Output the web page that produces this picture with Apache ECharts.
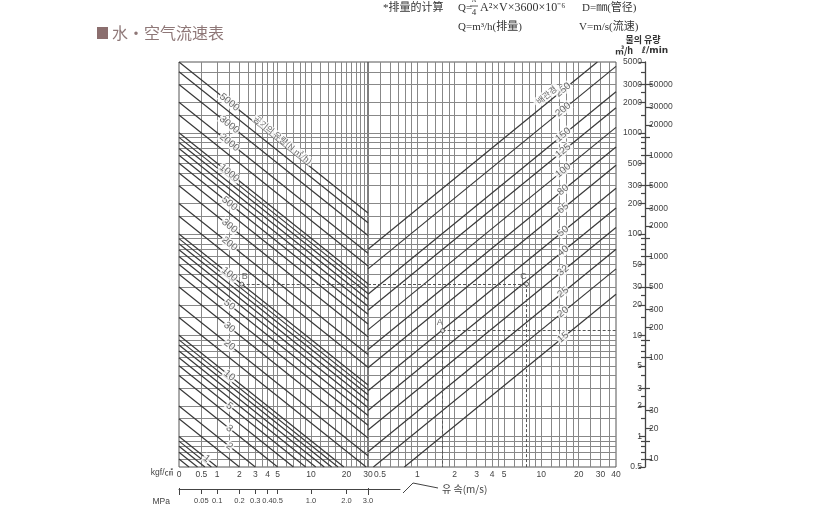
<!DOCTYPE html>
<html><head><meta charset="utf-8">
<script src="https://cdn.jsdelivr.net/npm/echarts@6/dist/echarts.min.js"></script>
<style>html,body{margin:0;padding:0;background:#fff}#c{width:818px;height:520px}</style>
</head><body><div id="c"></div>
<script>
// ---------------- DATA ----------------
const pressureTickLabels = [0, 0.5, 1, 2, 3, 4, 5, 10, 20, 30];            // kgf/cm2
const pressureGrid = [0.5, 1, 1.5, 2, 2.5, 3, 3.5, 4, 4.5, 5, 6, 7, 8, 9, 10, 12, 14, 16, 18, 20, 22, 24, 26, 28];
const mpaTicks = [0, 0.05, 0.1, 0.2, 0.3, 0.4, 0.5, 1.0, 2.0, 3.0];
const mpaTickLabels = ['0.05', '0.1', '0.2', '0.3', '0.4', '0.5', '1.0', '2.0', '3.0'];
const velocityTickLabels = [0.5, 1, 2, 3, 4, 5, 10, 20, 30, 40];          // m/s
const velocityGrid = [0.5, 0.6, 0.7, 0.8, 0.9, 1, 1.2, 1.4, 1.6, 1.8, 2, 2.5, 3, 3.5, 4, 4.5, 5, 6, 7, 8, 9, 10, 12, 14, 16, 18, 20, 25, 30, 35];
const flowGrid = [0.6, 0.7, 0.8, 0.9, 1, 1.5, 2, 3, 4, 5, 6, 7, 8, 9, 10, 15, 20, 30, 40, 50, 60, 70, 80, 90,
  100, 150, 200, 300, 400, 500, 600, 700, 800, 900, 1000, 1500, 2000, 3000, 4000];   // m3/h
const airFlowLines = [0.6, 0.7, 0.8, 0.9, 1, 1.5, 2, 3, 4, 5, 6, 7, 8, 9, 10, 15, 20, 30, 40, 50, 60, 70, 80, 90,
  100, 150, 200, 300, 400, 500, 600, 700, 800, 900, 1000, 1500, 2000, 3000, 4000, 5000]; // Nm3/h
const airFlowLabels = [5000, 3000, 2000, 1000, 500, 300, 200, 100, 50, 30, 20, 10, 5, 3, 2, 1];
const pipeDiameters = [15, 20, 25, 32, 40, 50, 65, 80, 100, 125, 150, 200, 250]; // mm
const flowAxisLabels = [5000, 3000, 2000, 1000, 500, 300, 200, 100, 50, 30, 20, 10, 5, 3, 2, 1, 0.5];
const flowAxisMinor = [4000, 2500, 1500, 900, 800, 700, 600, 400, 250, 150, 90, 80, 70, 60, 40, 25, 15, 9, 8, 7, 6, 4, 2.5, 1.5, 0.9, 0.8, 0.7, 0.6];
const lminAxisLabels = [50000, 30000, 20000, 10000, 5000, 3000, 2000, 1000, 500, 300, 200, 100, 30, 20, 10];
const lminAxisMinor = [15000, 1500, 150, 50, 15];
const exampleB = { airFlow: 100, flow: 32 };        // Nm3/h, m3/h
const exampleC = { velocity: 7.6, flow: 32 };       // m/s, m3/h
const exampleA = { velocity: 1.6, flow: 11.1 };     // m/s, m3/h

// ---------------- SCALES ----------------
const LOG = Math.log10;
const yMin = LOG(0.5), yMax = LOG(5000);
const lx = p => LOG(p + 1);
const lxMax = lx(30);
const rxMin = LOG(0.4), rxMax = LOG(40);
const K = Math.PI / 4 * 3600e-6;        // Q = pi/4 D^2 V 3600 10^-6
const M3H_TO_LMIN = 1000 / 60;

const NUM = '"Liberation Sans Narrow","Liberation Sans",Arial,sans-serif';
const SERIF = '"Liberation Serif","Noto Sans CJK SC",serif';
const CJK = '"Noto Sans CJK SC",sans-serif';
const KR = '"Noto Sans CJK KR","Liberation Sans",sans-serif';
const GRID_C = '#888', LINE_C = '#383838', TXT = '#444';

const fmt = v => String(Number(Math.pow(10, v).toPrecision(3)));

function hLines(vals, x0, x1) { return vals.map(q => ({ coords: [[x0, LOG(q)], [x1, LOG(q)]] })); }
function vLines(xs) { return xs.map(x => ({ coords: [[x, yMin], [x, yMax]] })); }

const leftDiag = airFlowLines.map(qf => {
  const c = LOG(qf), x0 = Math.max(0, c - yMax), x1 = Math.min(lxMax, c - yMin);
  return x1 > x0 ? { coords: [[x0, c - x0], [x1, c - x1]] } : null;
}).filter(Boolean);
const rightDiag = pipeDiameters.map(d => {
  const k = LOG(K * d * d), x0 = Math.max(rxMin, yMin - k), x1 = Math.min(rxMax, yMax - k);
  return { coords: [[x0, x0 + k], [x1, x1 + k]] };
});
const leftLabels = airFlowLabels.map(q => { const x = lx(q < 1.5 ? 0.65 : 1.5); return [x, LOG(q) - x, String(q)]; });
const rightLabels = pipeDiameters.map(d => { const x = LOG(15); return [x, x + LOG(K * d * d), String(d)]; });

const pB = exampleB.airFlow / exampleB.flow - 1;
const dashLeft = [{ coords: [[lx(pB), LOG(exampleB.flow)], [lxMax, LOG(exampleB.flow)]] }];
const dashRight = [
  { coords: [[rxMin, LOG(exampleC.flow)], [LOG(exampleC.velocity), LOG(exampleC.flow)]] },
  { coords: [[LOG(exampleC.velocity), LOG(exampleC.flow)], [LOG(exampleC.velocity), yMin]] },
  { coords: [[LOG(exampleA.velocity), LOG(exampleA.flow)], [rxMax, LOG(exampleA.flow)]] },
  { coords: [[LOG(exampleA.velocity), LOG(exampleA.flow)], [LOG(exampleA.velocity), yMin]] }
];

const angL = -Math.atan((405 / 4) / (189 / lxMax)) * 180 / Math.PI;
const angR = Math.atan((405 / 4) / (248 / (rxMax - rxMin))) * 180 / Math.PI;

const base = { silent: true, animation: false };
const lineLab = (rot) => ({ show: true, position: 'inside', formatter: p => p.data[2], rotate: rot,
  backgroundColor: '#fff', padding: [0, 1], fontSize: 10, color: '#444', fontFamily: NUM });

const option = {
  animation: false,
  backgroundColor: '#fff',
  grid: [
    { left: 179, top: 62, width: 189, height: 405, show: true, borderColor: '#555', borderWidth: 1 },
    { left: 368, top: 62, width: 248, height: 405, show: true, borderColor: '#555', borderWidth: 1 },
    { left: 645, top: 62, width: 1, height: 405 },
    { left: 179, top: 488, width: 221, height: 1 }
  ],
  xAxis: [
    { gridIndex: 0, type: 'value', min: 0, max: lxMax, axisLine: { show: false }, axisTick: { show: false }, splitLine: { show: false },
      axisLabel: { customValues: pressureTickLabels.map(lx), formatter: v => String(Number((Math.pow(10, v) - 1).toPrecision(3))),
        margin: 3, fontSize: 8.5, color: TXT, fontFamily: NUM } },
    { gridIndex: 1, type: 'value', min: rxMin, max: rxMax, axisLine: { show: false }, axisTick: { show: false }, splitLine: { show: false },
      axisLabel: { customValues: velocityTickLabels.map(LOG), formatter: fmt, margin: 3, fontSize: 8.5, color: TXT, fontFamily: NUM } },
    { gridIndex: 2, type: 'value', show: false, min: 0, max: 1 },
    { gridIndex: 3, type: 'value', min: 0, max: 221 * lxMax / 189, splitLine: { show: false },
      axisLine: { show: true, lineStyle: { color: '#444', width: 1 } },
      axisTick: { show: true, length: 5, customValues: mpaTicks.map(m => lx(m * 10)), lineStyle: { color: '#444' } },
      axisLabel: { customValues: mpaTickLabels.map(s => lx(parseFloat(s) * 10)),
        formatter: v => { let best = mpaTickLabels[0], bd = 1e9; mpaTickLabels.forEach(s => { const d = Math.abs(lx(parseFloat(s) * 10) - v); if (d < bd) { bd = d; best = s; } }); return best; },
        margin: 8, fontSize: 7.5, color: TXT, fontFamily: NUM } },
    { gridIndex: 3, type: 'value', min: 0, max: 221 * lxMax / 189, splitLine: { show: false }, axisLine: { show: false },
      axisTick: { show: true, inside: true, length: 7, customValues: [lx(mpaTicks[0]), lx(mpaTicks[mpaTicks.length - 1] * 10)], lineStyle: { color: '#444' } },
      axisLabel: { show: false } }
  ],
  yAxis: [
    { gridIndex: 0, type: 'value', min: yMin, max: yMax, show: false },
    { gridIndex: 1, type: 'value', min: yMin, max: yMax, show: false },
    { gridIndex: 2, type: 'value', position: 'left', min: yMin, max: yMax, splitLine: { show: false },
      axisLine: { show: true, lineStyle: { color: '#444', width: 1.3 } },
      axisTick: { show: true, length: 6, customValues: flowAxisLabels.map(LOG), lineStyle: { color: '#444', width: 1.2 } },
      axisLabel: { customValues: flowAxisLabels.map(LOG), formatter: fmt, margin: 3, fontSize: 8.5, color: TXT, fontFamily: NUM } },
    { gridIndex: 2, type: 'value', position: 'left', min: yMin, max: yMax, splitLine: { show: false }, axisLine: { show: false },
      axisTick: { show: true, length: 4, customValues: flowAxisMinor.map(LOG), lineStyle: { color: '#444', width: 1.2 } },
      axisLabel: { show: false } },
    { gridIndex: 2, type: 'value', position: 'right', min: LOG(0.5 * M3H_TO_LMIN), max: LOG(5000 * M3H_TO_LMIN), splitLine: { show: false },
      axisLine: { show: false },
      axisTick: { show: true, length: 6, customValues: lminAxisLabels.map(LOG), lineStyle: { color: '#444', width: 1.2 } },
      axisLabel: { customValues: lminAxisLabels.map(LOG), formatter: fmt, margin: 3, fontSize: 8.5, color: TXT, fontFamily: NUM } },
    { gridIndex: 2, type: 'value', position: 'right', min: LOG(0.5 * M3H_TO_LMIN), max: LOG(5000 * M3H_TO_LMIN), splitLine: { show: false },
      axisLine: { show: false },
      axisTick: { show: true, length: 4, customValues: lminAxisMinor.map(LOG), lineStyle: { color: '#444', width: 1.2 } },
      axisLabel: { show: false } },
    { gridIndex: 3, type: 'value', show: false, min: 0, max: 1 }
  ],
  series: [
    Object.assign({ type: 'lines', coordinateSystem: 'cartesian2d', xAxisIndex: 0, yAxisIndex: 0,
      data: hLines(flowGrid, 0, lxMax).concat(vLines(pressureGrid.map(lx))), lineStyle: { color: GRID_C, width: 1, opacity: 1 } }, base),
    Object.assign({ type: 'lines', coordinateSystem: 'cartesian2d', xAxisIndex: 1, yAxisIndex: 1,
      data: hLines(flowGrid, rxMin, rxMax).concat(vLines(velocityGrid.map(LOG))), lineStyle: { color: GRID_C, width: 1, opacity: 1 } }, base),
    Object.assign({ type: 'lines', coordinateSystem: 'cartesian2d', xAxisIndex: 0, yAxisIndex: 0,
      data: leftDiag, lineStyle: { color: LINE_C, width: 1.2, opacity: 1 } }, base),
    Object.assign({ type: 'lines', coordinateSystem: 'cartesian2d', xAxisIndex: 1, yAxisIndex: 1,
      data: rightDiag, lineStyle: { color: LINE_C, width: 1.2, opacity: 1 } }, base),
    Object.assign({ type: 'lines', coordinateSystem: 'cartesian2d', xAxisIndex: 0, yAxisIndex: 0,
      data: dashLeft, lineStyle: { color: '#555', width: 1, type: [3, 2], opacity: 1 } }, base),
    Object.assign({ type: 'lines', coordinateSystem: 'cartesian2d', xAxisIndex: 1, yAxisIndex: 1,
      data: dashRight, lineStyle: { color: '#555', width: 1, type: [3, 2], opacity: 1 } }, base),
    Object.assign({ type: 'scatter', xAxisIndex: 0, yAxisIndex: 0, symbolSize: 1, itemStyle: { color: 'rgba(0,0,0,0)' },
      data: leftLabels,
      label: lineLab(angL), z: 5 }, base),
    Object.assign({ type: 'scatter', xAxisIndex: 0, yAxisIndex: 0, symbolSize: 1, itemStyle: { color: 'rgba(0,0,0,0)' },
      data: [[lx(5.6), LOG(850), '공기의 유량(N ㎥/h)']],
      label: Object.assign(lineLab(angL), { fontSize: 8.5, fontFamily: KR }), z: 5 }, base),
    Object.assign({ type: 'scatter', xAxisIndex: 1, yAxisIndex: 1, symbolSize: 1, itemStyle: { color: 'rgba(0,0,0,0)' },
      data: rightLabels,
      label: lineLab(angR), z: 5 }, base),
    Object.assign({ type: 'scatter', xAxisIndex: 1, yAxisIndex: 1, symbolSize: 1, itemStyle: { color: 'rgba(0,0,0,0)' },
      data: [[LOG(11), LOG(2360), '배관경']],
      label: Object.assign(lineLab(angR), { fontSize: 8.5, fontFamily: KR, padding: [1, 3] }), z: 5 }, base),
    Object.assign({ type: 'scatter', xAxisIndex: 0, yAxisIndex: 0, symbol: 'circle', symbolSize: 4,
      itemStyle: { color: '#fff', borderColor: '#444', borderWidth: 1 },
      data: [[lx(pB), LOG(exampleB.flow), 'B']],
      label: { show: true, position: 'top', distance: 1, offset: [3, 0], formatter: p => p.data[2], fontSize: 9, color: '#444', fontFamily: NUM }, z: 6 }, base),
    Object.assign({ type: 'scatter', xAxisIndex: 1, yAxisIndex: 1, symbol: 'circle', symbolSize: 4,
      itemStyle: { color: '#fff', borderColor: '#444', borderWidth: 1 },
      data: [[LOG(exampleC.velocity), LOG(exampleC.flow), 'C'], [LOG(exampleA.velocity), LOG(exampleA.flow), 'A']],
      label: { show: true, position: 'top', distance: 1, offset: [-3, 0], formatter: p => p.data[2], fontSize: 9, color: '#444', fontFamily: NUM }, z: 6 }, base)
  ],
  graphic: [
    { type: 'rect', shape: { x: 97, y: 27, width: 11, height: 12 }, style: { fill: '#8b6e6e' } },
    { type: 'text', x: 112, y: 33, style: { text: '水·空气流速表', font: '16px ' + CJK, fill: '#8e7777', verticalAlign: 'middle' } },
    { type: 'text', x: 383, y: 8, style: { text: '*排量的计算', font: '11px ' + SERIF, fill: '#333', verticalAlign: 'middle' } },
    { type: 'text', x: 458, y: 8, style: { text: 'Q=', font: '11px ' + SERIF, fill: '#333', verticalAlign: 'middle' } },
    { type: 'text', x: 474, y: 0, style: { text: 'π', font: '9px ' + SERIF, fill: '#333', align: 'center', verticalAlign: 'middle' } },
    { type: 'line', shape: { x1: 470, y1: 6, x2: 478, y2: 6 }, style: { stroke: '#333', lineWidth: 0.8 } },
    { type: 'text', x: 474, y: 13, style: { text: '4', font: '9px ' + SERIF, fill: '#333', align: 'center', verticalAlign: 'middle' } },
    { type: 'text', x: 480, y: 8, style: { text: 'A²×V×3600×10⁻⁶', font: '12px ' + SERIF, fill: '#333', verticalAlign: 'middle' } },
    { type: 'text', x: 582, y: 8, style: { text: 'D=㎜(管径)', font: '11px ' + SERIF, fill: '#333', verticalAlign: 'middle' } },
    { type: 'text', x: 458, y: 27, style: { text: 'Q=m³/h(排量)', font: '11px ' + SERIF, fill: '#333', verticalAlign: 'middle' } },
    { type: 'text', x: 579, y: 27, style: { text: 'V=m/s(流速)', font: '11px ' + SERIF, fill: '#333', verticalAlign: 'middle' } },
    { type: 'text', x: 643, y: 40, style: { text: '물의 유량', font: 'bold 9px ' + KR, fill: '#333', align: 'center', verticalAlign: 'middle' } },
    { type: 'text', x: 624, y: 51, style: { text: '㎥/h', font: 'bold 9px ' + KR, fill: '#333', align: 'center', verticalAlign: 'middle' } },
    { type: 'text', x: 655, y: 51, style: { text: 'ℓ/min', font: 'bold 9px "DejaVu Sans",sans-serif', fill: '#333', align: 'center', verticalAlign: 'middle' } },
    { type: 'text', x: 173, y: 473, style: { text: 'kgf/㎠', font: '8.5px ' + NUM + ',"Noto Sans CJK KR"', fill: '#444', align: 'right', verticalAlign: 'middle' } },
    { type: 'text', x: 170, y: 502, style: { text: 'MPa', font: '8.5px ' + NUM, fill: '#444', align: 'right', verticalAlign: 'middle' } },
    { type: 'polyline', shape: { points: [[403, 493], [413, 483], [438, 488]] }, style: { stroke: '#444', fill: null, lineWidth: 1 } },
    { type: 'text', x: 442, y: 489, style: { text: '유 속(m/s)', font: '10px ' + KR, fill: '#444', verticalAlign: 'middle' } }
  ]
};
const chart = echarts.init(document.getElementById('c'), null, { renderer: 'canvas' });
chart.setOption(option);
</script></body></html>
